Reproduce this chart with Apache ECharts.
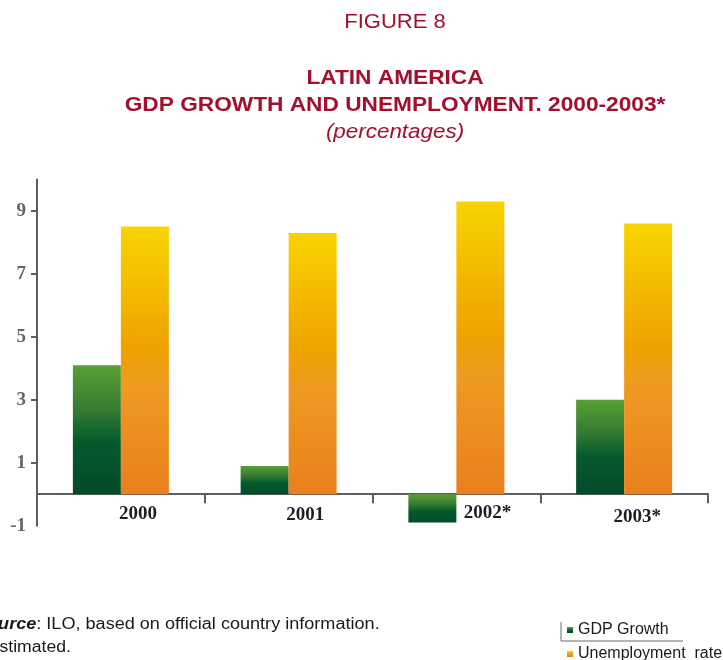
<!DOCTYPE html>
<html>
<head>
<meta charset="utf-8">
<title>Latin America: GDP growth and unemployment 2000-2003</title>
<script src="https://cdn.jsdelivr.net/npm/echarts@6/dist/echarts.min.js"></script>
<style>
  html, body { margin: 0; padding: 0; background: #ffffff; }
  #chart { width: 723px; height: 660px; }
</style>
</head>
<body>
<div id="chart"></div>
<script>
// Data (percentages)
const categories = ['2000', '2001', '2002*', '2003*'];
const gdpGrowth = [4.1, 0.9, -0.9, 3.0];
const unemploymentRate = [8.5, 8.3, 9.3, 8.6];
const yTickLabels = [-1, 1, 3, 5, 7, 9];
const yTickMarks = [1, 3, 5, 7, 9];
const seriesNames = ['GDP Growth', 'Unemployment  rate'];

// Per-label nudges for the year labels under the axis: [top, left]
const labelNudge = [[1, 34], [2, 33], [0, 62], [4, 26]];

const crimson = '#a50f2d';
const sans = 'Liberation Sans, Arial, sans-serif';
const serif = 'Liberation Serif, Times New Roman, serif';

const greenFill = new echarts.graphic.LinearGradient(0, 0, 0, 1, [
  { offset: 0, color: '#5aa035' },
  { offset: 0.35, color: '#357a32' },
  { offset: 0.6, color: '#045a2c' },
  { offset: 1, color: '#034a2a' }
]);
const orangeFill = new echarts.graphic.LinearGradient(0, 0, 0, 1, [
  { offset: 0, color: '#f8d400' },
  { offset: 0.45, color: '#f0a200' },
  { offset: 0.6, color: '#ee9a22' },
  { offset: 1, color: '#ea7f1c' }
]);

// Centered heading line, slightly widened
function heading(text, y, size, weight, style, sx) {
  return {
    type: 'text', x: 395, y: y, scaleX: sx, silent: true,
    style: {
      text: text, fill: crimson,
      font: style + ' ' + weight + ' ' + size + 'px ' + sans,
      textAlign: 'center', textVerticalAlign: 'middle'
    }
  };
}

const legendText = { fontFamily: sans, fontSize: 16, color: '#1a1a1a', lineHeight: 16 };

const chart = echarts.init(document.getElementById('chart'), null, { renderer: 'canvas' });

chart.setOption({
  backgroundColor: '#ffffff',
  animation: false,
  legend: [
    {
      orient: 'vertical', left: 567, top: 622, padding: 0,
      itemWidth: 6, itemHeight: 6, itemGap: 8, icon: 'rect',
      selectedMode: false, data: [seriesNames[0]], textStyle: legendText
    },
    {
      orient: 'vertical', left: 567, top: 646, padding: 0,
      itemWidth: 6, itemHeight: 6, itemGap: 8, icon: 'rect',
      selectedMode: false, data: [seriesNames[1]], textStyle: legendText
    }
  ],
  grid: { left: 37, right: 15, top: 179.4, bottom: 134.3, containLabel: false },
  xAxis: {
    type: 'category',
    data: categories.map((c, i) => ({
      value: c,
      textStyle: { padding: [labelNudge[i][0], 0, 0, labelNudge[i][1]] }
    })),
    axisLine: { onZero: true, lineStyle: { color: '#5f5f5f', width: 2 } },
    axisTick: { show: true, length: 9, lineStyle: { color: '#5f5f5f', width: 2 } },
    axisLabel: {
      margin: -22,
      fontFamily: serif, fontWeight: 'bold', fontSize: 19, color: '#1e1e1e'
    },
    splitLine: { show: false }
  },
  yAxis: {
    type: 'value',
    min: -1, max: 10,
    axisLine: { show: true, lineStyle: { color: '#5f5f5f', width: 2 } },
    axisTick: { show: true, length: 6, customValues: yTickMarks, lineStyle: { color: '#5f5f5f', width: 2 } },
    axisLabel: {
      customValues: yTickLabels,
      margin: 11,
      fontFamily: serif, fontWeight: 'bold', fontSize: 19, color: '#666666'
    },
    splitLine: { show: false }
  },
  series: [
    {
      name: seriesNames[0],
      type: 'bar',
      data: gdpGrowth,
      barWidth: 48,
      barGap: '0%',
      itemStyle: { color: greenFill }
    },
    {
      name: seriesNames[1],
      type: 'bar',
      data: unemploymentRate,
      barWidth: 48,
      barGap: '0%',
      itemStyle: { color: orangeFill }
    }
  ],
  graphic: [
    heading('FIGURE 8', 22.5, 20, 'normal', 'normal', 1.1),
    heading('LATIN AMERICA', 78, 21, 'bold', 'normal', 1.08),
    heading('GDP GROWTH AND UNEMPLOYMENT. 2000-2003*', 105.5, 21, 'bold', 'normal', 1.08),
    heading('(percentages)', 132, 20, 'normal', 'italic', 1.12),
    // Frame lines beside the legend
    { type: 'line', shape: { x1: 561, y1: 622, x2: 561, y2: 641 }, style: { stroke: '#6a6a6a', lineWidth: 1 }, silent: true },
    { type: 'line', shape: { x1: 561, y1: 641, x2: 683, y2: 641 }, style: { stroke: '#6a6a6a', lineWidth: 1 }, silent: true },
    // Source note
    {
      type: 'text', x: -25, y: 625, scaleX: 1.13, silent: true,
      style: {
        text: '{b|Source}: ILO, based on official country information.',
        font: '16px ' + sans, fill: '#1a1a1a', textVerticalAlign: 'middle',
        rich: { b: { fontWeight: 'bold', fontStyle: 'italic', fontSize: 16, fontFamily: sans, fill: '#1a1a1a' } }
      }
    },
    {
      type: 'text', x: -24, y: 648, scaleX: 1.1, silent: true,
      style: { text: '* Estimated.', font: '16px ' + sans, fill: '#1a1a1a', textVerticalAlign: 'middle' }
    }
  ]
});
</script>
</body>
</html>
